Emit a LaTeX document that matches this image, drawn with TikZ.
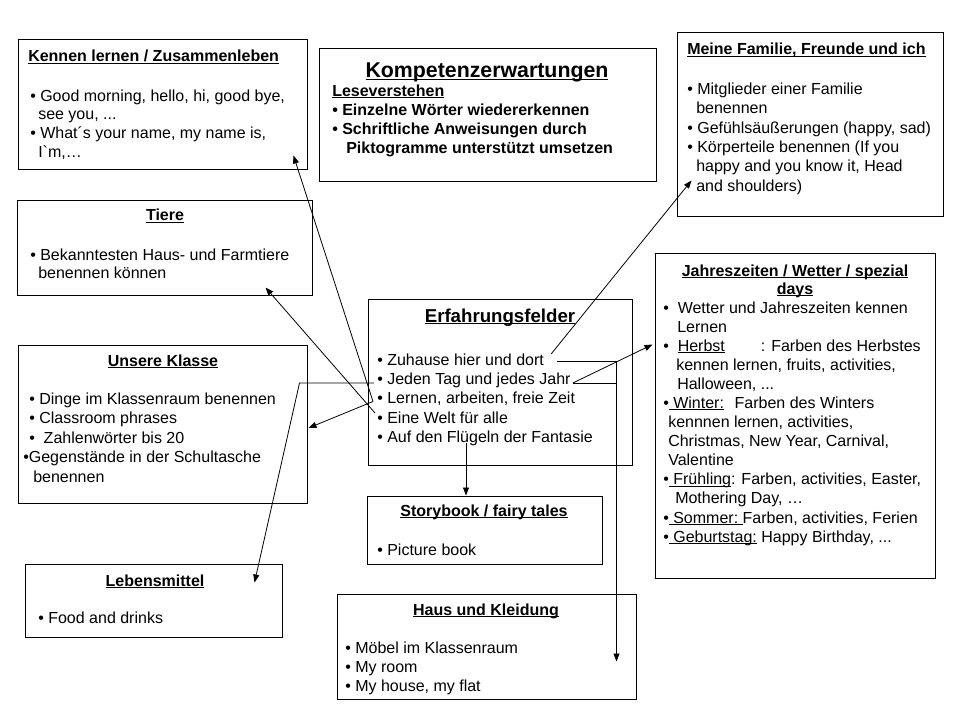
\documentclass[tikz,border=0pt]{standalone}
\usepackage{fontspec}
\setmainfont{Liberation Sans}
\usetikzlibrary{arrows.meta,fit,positioning,calc}
% underline at a fixed depth, like the slide does
\newcommand\ulnd[1]{\setbox0=\hbox{#1}\rlap{\rule[-0.11em]{\wd0}{0.07em}}\box0\relax}
\newcommand\linetop{\rule{0pt}{9.75pt}}

\begin{document}
\begin{tikzpicture}[
    x=0.75pt, y=-0.75pt,
    box/.style={draw, line width=0.75pt, inner sep=0pt},
    head/.style={font=\fontsize{12}{14}\selectfont\bfseries, inner sep=0pt, anchor=base},
    body/.style={font=\fontsize{12}{14}\selectfont, align=left, inner sep=0pt, anchor=north west},
    item/.style={font=\fontsize{12}{14}\selectfont, inner sep=0pt, anchor=base west},
    arr/.style={-{Triangle[length=6pt,width=4.5pt]}, line width=0.6pt}
  ]
  \useasboundingbox (0,0) rectangle (960,720);

  % boxes
  \node[box, fit={(18,40) (307,170)}]   (kennen)  {};
  \node[box, fit={(319,49) (656,182)}]  (kompe)   {};
  \node[box, fit={(677,33) (943,217)}]  (familie) {};
  \node[box, fit={(17,201) (312,296)}]  (tiere)   {};
  \node[box, fit={(655,254) (935,578)}] (jahres)  {};
  \node[box, fit={(368,300) (632,465)}] (erf)     {};
  \node[box, fit={(18,345) (307,503)}]  (unsere)  {};
  \node[box, fit={(367,496) (602,564)}] (story)   {};
  \node[box, fit={(25,564) (282,637)}]  (lebens)  {};
  \node[box, fit={(337,594) (636,699)}] (haus)    {};

  % texts
  \node[head, anchor=base west] (kennenH) at (28,62) {\ulnd{Kennen lernen / Zusammenleben}};
  \node[body] (kennenB) at (30,88) {\linetop• Good morning, hello, hi, good bye,\\\hspace*{6pt}see you, ...\\• What´s your name, my name is,\\\hspace*{6pt}I\textasciigrave m,…};

  \node[head, font=\fontsize{16}{18}\selectfont\bfseries] (kompeH) at (487,78) {\ulnd{Kompetenzerwartungen}};
  \node[body, font=\fontsize{12}{14.25}\selectfont\bfseries] (kompeB) at (332,83) {\linetop\ulnd{Leseverstehen}\\• Einzelne Wörter wiedererkennen\\• Schriftliche Anweisungen durch\\\hspace*{10.5pt}Piktogramme unterstützt umsetzen};

  \node[head, anchor=base west] (familieH) at (687,55) {\ulnd{Meine Familie, Freunde und ich}};
  \node[body, font=\fontsize{12}{14.55}\selectfont] (familieB) at (687,81) {\linetop• Mitglieder einer Familie\\\hspace*{6.75pt}benennen\\• Gefühlsäußerungen (happy, sad)\\• Körperteile benennen (If you\\\hspace*{6.75pt}happy and you know it, Head\\\hspace*{6.75pt}and shoulders)};

  \node[head] (tiereH) at (165,221) {\ulnd{Tiere}};
  \node[body] (tiereB) at (30,247) {\linetop• Bekanntesten Haus- und Farmtiere\\\hspace*{6pt}benennen können};

  \node[head] (unsereH) at (163,366) {\ulnd{Unsere Klasse}};
  \node[body, font=\fontsize{12}{14.6}\selectfont] (unsereB) at (29,391) {\linetop• Dinge im Klassenraum benennen\\• Classroom phrases\\•\ \ Zahlenwörter bis 20\\\hspace*{-4.5pt}•Gegenstände in der Schultasche\\\hspace*{3pt}benennen};

  \node[head] (lebensH) at (155,586) {\ulnd{Lebensmittel}};
  \node[body] (lebensB) at (38,610) {\linetop• Food and drinks};

  \node[head, font=\fontsize{14}{16}\selectfont\bfseries] (erfH) at (500,322) {\ulnd{Erfahrungsfelder}};
  \node[item] (erf1) at (377,365)   {• Zuhause hier und dort};
  \node[item] (erf2) at (377,384)   {• Jeden Tag und jedes Jahr};
  \node[item] (erf3) at (377,403.5) {• Lernen, arbeiten, freie Zeit};
  \node[item] (erf4) at (377,423)   {• Eine Welt für alle};
  \node[item] (erf5) at (377,442)   {• Auf den Flügeln der Fantasie};

  \node[head] (storyH) at (484,516) {\ulnd{Storybook / fairy tales}};
  \node[body] (storyB) at (377,542) {\linetop• Picture book};

  \node[head] (hausH) at (486,615) {\ulnd{Haus und Kleidung}};
  \node[body, font=\fontsize{12}{14.4}\selectfont] (hausB) at (345,640) {\linetop• Möbel im Klassenraum\\• My room\\• My house, my flat};

  \node[head, align=center, anchor=north, font=\fontsize{12}{13.5}\selectfont\bfseries] (jahresH) at (795,263) {\linetop\ulnd{Jahreszeiten / Wetter / spezial}\\\ulnd{days}};
  \node[body, font=\fontsize{12}{14.3}\selectfont] (jahresB) at (663,300) {\linetop•\ \ Wetter und Jahreszeiten kennen\\
    \hspace*{10.5pt}Lernen\\
    •\ \ \ulnd{Herbst}\hspace{27pt}: Farben des Herbstes\\
    \hspace*{9.75pt}kennen lernen, fruits, activities,\\
    \hspace*{10.5pt}Halloween, ...\\
    •\ulnd{\ Winter:}\hspace{8pt}Farben des Winters\\
    \hspace*{3.75pt}kennnen lernen, activities,\\
    \hspace*{3.75pt}Christmas, New Year, Carnival,\\
    \hspace*{3.75pt}Valentine\\
    •\ulnd{\ Frühling}: Farben, activities, Easter,\\
    \hspace*{9pt}Mothering Day, …\\
    •\ulnd{\ Sommer:\ }Farben, activities, Ferien\\
    •\ulnd{\ Geburtstag:} Happy Birthday, ...};

  % connectors
  \coordinate (drop) at ([shift={(-20,0)}]haus.north east);
  \draw[arr] ([shift={(7,-11)}]erf1.base east) -- ([shift={(15,-37)}]familie.south west);
  \draw[arr] ([shift={(13,-4)}]erf1.base east) -| ([shift={(0,68)}]drop);
  \draw[line width=0.6pt] ([shift={(2,-1)}]erf2.base east) coordinate (jahr) -- (jahr -| drop);
  \draw[arr] (jahr) -- ([shift={(-2,91)}]jahres.north west);
  \draw[arr] ([shift={(-3,-1)}]erf2.base west) coordinate (jeden) -- ([shift={(-8,0)}]unsere.east |- jeden) -- ([shift={(-28,19)}]lebens.north east);
  \draw[arr] ([shift={(-4,-2)}]erf3.base west) -- ([shift={(-14,-15)}]kennen.south east);
  \draw[arr] ([shift={(-4,-2)}]erf3.base west) -- ([shift={(1,4)}]unsere.east);
  \draw[arr] ([shift={(-2,-10)}]erf4.base west) -- ([shift={(-47,-9)}]tiere.south east);
  \draw[arr] ([shift={(89,1)}]erf5.base west) coordinate (fl) -- (fl |- story.north);
\end{tikzpicture}
\end{document}
